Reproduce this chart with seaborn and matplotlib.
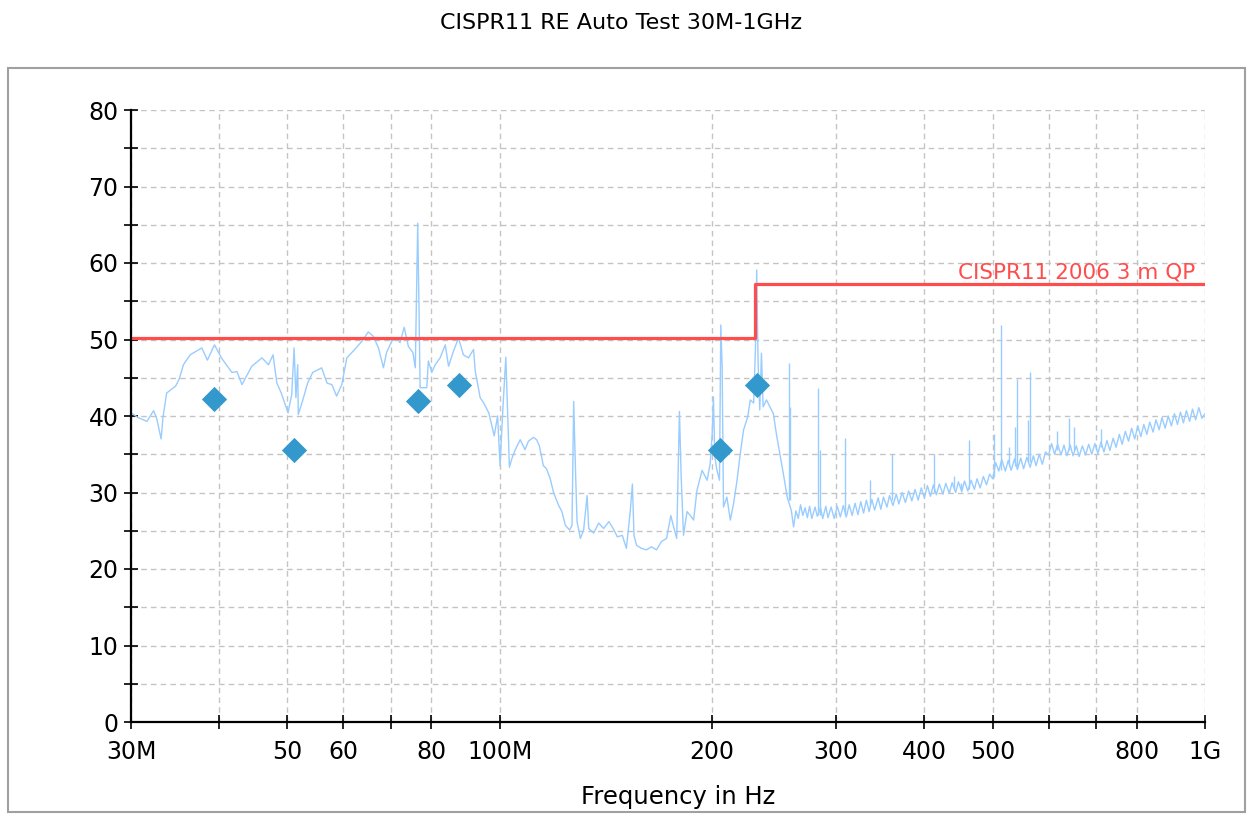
import pandas as pd
import matplotlib
matplotlib.use("Agg")
import matplotlib.pyplot as plt
from matplotlib.ticker import MultipleLocator, NullLocator
from matplotlib.patches import Rectangle
import seaborn as sns

sns.set_theme(style="white")
plt.rcParams['font.family'] = ['DejaVu Sans']
plt.rcParams['text.color'] = 'black'

# Medição (MHz, dBuV/m), por trechos
freq_a = [30.0, 30.7, 31.6, 32.3, 32.6, 33.1, 33.3, 33.7, 34.7, 35.1, 35.6, 36.4, 37.8, 38.5, 39.4,
          40.3, 41.7, 42.4, 43.1, 44.5, 46.0, 47.0, 47.7, 48.3, 49.0, 50.1, 50.7, 51.1, 51.4, 51.7,
          51.8, 52.5, 53.4, 54.3, 55.4]
level_a = [40.4, 39.8, 39.3, 40.7, 39.8, 37.0, 39.8, 43.0, 43.9, 44.8, 46.7, 48.0, 48.9, 47.3, 49.3,
           47.6, 45.7, 45.8, 44.1, 46.5, 47.6, 46.7, 48.0, 44.3, 43.0, 40.4, 42.8, 48.9, 42.4, 46.7,
           40.2, 41.9, 44.3, 45.7, 46.1]

freq_b = [55.9, 56.9, 57.8, 58.7, 59.7, 60.7, 62.0, 63.8, 65.1, 66.2, 67.3, 68.4, 69.1, 70.3, 71.4,
          72.2, 73.2, 74.2, 75.3, 75.9, 76.2, 76.5, 76.8, 77.1, 77.9, 78.8, 79.2, 80.1, 81.0, 82.3,
          83.7, 84.6, 86.0, 87.4, 88.8, 90.3, 91.8, 92.3, 93.8]
level_b = [46.3, 44.3, 44.1, 42.6, 44.1, 47.6, 48.5, 49.8, 51.0, 50.4, 48.9, 46.3, 48.3, 49.8, 50.2,
           49.6, 51.6, 49.1, 48.3, 46.3, 55.4, 65.2, 55.0, 43.7, 43.7, 43.7, 47.2, 45.7, 46.7, 47.6,
           49.3, 46.5, 48.5, 50.2, 48.0, 47.6, 48.7, 45.9, 42.4]

freq_c = [94.9, 96.5, 98.2, 99.3, 100.1, 101.0, 102.0, 102.6, 103.2, 104.0, 105.2, 106.9, 108.6,
          109.8, 111.6, 112.8, 113.8, 115.3, 116.5, 117.9, 119.2, 121.2, 122.5, 123.9, 125.6, 126.6,
          127.3, 128.0, 128.7, 130.1, 131.5, 133.0, 133.7, 135.9, 138.1, 140.4, 142.8, 145.2, 146.8,
          149.2, 151.2, 153.1, 154.2, 155.0, 156.3, 158.8, 161.4, 164.1, 166.8, 169.6, 172.4, 174.8,
          176.2, 178.2, 179.8, 180.8, 182.2, 184.3, 186.3]
level_c = [41.7, 40.4, 37.4, 40.0, 33.5, 40.8, 47.7, 40.4, 33.3, 34.4, 35.6, 36.9, 35.6,
           36.7, 37.2, 36.9, 36.1, 33.5, 33.1, 31.8, 30.0, 28.3, 27.5, 25.7, 25.1, 25.7,
           41.9, 33.5, 26.2, 24.0, 25.1, 29.6, 25.3, 24.7, 26.0, 25.3, 26.2, 25.1, 24.2,
           24.4, 22.7, 27.5, 31.1, 24.4, 23.1, 22.7, 22.5, 22.9, 22.5, 23.6, 24.0, 27.0,
           25.7, 24.0, 40.6, 32.2, 24.4, 27.5, 27.0]

freq_d = [188.3, 190.4, 193.6, 196.8, 198.8, 200.1, 200.9, 201.8, 203.1, 204.9, 205.8, 206.7, 207.6,
          209.9, 212.3, 214.6, 217.0, 219.3, 221.7, 224.7, 226.6, 229.1, 230.4, 231.4, 232.4, 233.7,
          235.0, 236.3, 238.9, 241.6, 244.3, 247.1, 249.9, 252.8, 255.6]
level_d = [26.4, 30.3, 32.9, 31.6, 33.8, 37.7, 42.5, 34.7, 33.0, 31.6, 51.9, 46.5, 28.1,
           29.4, 26.4, 28.6, 31.6, 35.1, 38.2, 39.9, 42.1, 41.7, 48.6, 59.1, 47.3, 40.8,
           48.2, 41.2, 42.1, 41.2, 40.3, 37.3, 34.7, 32.1, 29.4]

freq_e = [259, 261, 263, 265, 267, 269, 271, 273, 275, 277,
          280, 282, 285, 287, 290, 292, 295, 298, 301, 304,
          307, 310, 313, 316, 319, 322, 325, 328, 331, 334,
          337, 340, 344, 347, 350, 354, 357, 361, 365, 368,
          372, 376, 380, 384, 388, 392, 396, 400, 404, 408,
          412, 416, 420, 425, 429, 434, 438, 443, 447, 452,
          456, 461, 466, 471, 475, 480, 485, 490, 495, 500,
          505, 510, 515, 521, 526, 531, 537, 542, 548, 553,
          559, 565, 571, 576, 582, 588, 594, 600, 606, 612,
          618, 625, 631, 637, 644, 650, 657, 663, 670, 677,
          684, 691, 698, 705, 712, 719, 726, 733, 741, 748,
          756, 763, 771, 779, 787, 795, 803, 811, 819, 827,
          835, 844, 852, 861, 869, 878, 887, 896, 905, 914,
          923, 932, 941, 951, 960, 970, 980, 990, 1000]
level_e = [27.7, 25.5, 27.6, 26.6, 28.4, 27.0, 28.0, 26.7, 28.2, 26.6,
           28.1, 26.9, 28.0, 26.6, 28.2, 26.7, 28.1, 26.6, 28.2, 26.8,
           28.3, 26.8, 28.4, 27.0, 28.6, 27.1, 28.8, 27.3, 29.0, 27.5,
           29.1, 27.7, 29.3, 27.8, 29.4, 28.1, 29.6, 28.3, 29.8, 28.5,
           30.0, 28.7, 30.2, 28.9, 30.4, 29.0, 30.6, 29.3, 30.9, 29.5,
           31.0, 29.7, 31.1, 29.8, 31.2, 29.9, 31.3, 30.0, 31.4, 30.1,
           31.5, 30.2, 31.6, 30.4, 31.8, 30.6, 32.1, 31.0, 32.4, 31.8,
           33.9, 32.8, 34.3, 32.8, 34.2, 32.9, 34.4, 33.0, 34.5, 33.1,
           34.6, 33.3, 34.8, 33.5, 35.0, 33.7, 35.3, 34.9, 36.4, 35.0,
           36.3, 34.9, 36.2, 34.8, 36.2, 34.8, 36.1, 34.7, 36.1, 34.9,
           36.3, 35.0, 36.4, 35.1, 36.6, 35.3, 36.8, 35.5, 37.1, 35.9,
           37.6, 36.3, 38.0, 36.7, 38.4, 37.0, 38.7, 37.3, 38.9, 37.6,
           39.2, 37.9, 39.5, 38.2, 39.8, 38.4, 40.0, 38.7, 40.3, 38.9,
           40.5, 39.1, 40.7, 39.3, 40.9, 39.5, 41.1, 39.7, 40.3]

# Picos estreitos acima de 250 MHz (freq, base, topo)
spike_freq = [257.3, 258.3, 282.3, 284.1, 308.4, 334.6, 360.1, 412.8, 441.0, 450.2, 462.8, 501.6,
              513.0, 527.3, 537.2, 540.9, 561.6, 565.3, 617.4, 641.3, 652.0, 712.0]
spike_base = [29.0, 29.0, 27.0, 27.0, 27.0, 28.5, 29.0, 30.0, 30.5, 30.5, 30.5, 32.0,
              33.0, 33.5, 33.5, 33.5, 34.0, 34.0, 35.5, 35.5, 35.5, 36.0]
spike_peak = [46.9, 41.2, 43.6, 35.5, 37.1, 31.6, 35.0, 35.0, 32.1, 31.2, 36.9, 37.6,
              51.9, 36.0, 38.6, 44.9, 39.5, 45.7, 38.0, 39.7, 38.5, 38.3]

# Limite CISPR11
limit_freq = [30, 230, 1000]
limit_level = [50.2, 57.3, 57.3]

# Pontos QP finais
peak_freq = [39.4, 51.1, 76.5, 87.4, 205.4, 231.5]
peak_level = [42.2, 35.6, 41.9, 44.05, 35.6, 44.05]

x_ticks = [30, 40, 50, 60, 70, 80, 100, 200, 300, 400, 500, 600, 700, 800, 1000]
x_labels = ["30M", "", "50", "60", "", "80", "100M", "200", "300", "400", "500", "", "", "800", "1G"]

trace = pd.DataFrame({
    'freq': freq_a + freq_b + freq_c + freq_d + freq_e,
    'level': level_a + level_b + level_c + level_d + level_e,
})

W, H = 1250, 814
fig = plt.figure(figsize=(W / 100, H / 100), dpi=100)
ax = fig.add_axes([131 / W, 92 / H, 1074 / W, 612 / H])
ax.set_xscale('log')

sns.lineplot(data=trace, x='freq', y='level', sort=False, estimator=None,
             color='#99ccff', lw=1.0, ax=ax, zorder=3)
ax.vlines(spike_freq, spike_base, spike_peak, color='#99ccff', lw=1.0, zorder=3)
sns.lineplot(x=limit_freq, y=limit_level, sort=False, estimator=None, drawstyle='steps-post',
             color='#ff4d4d', lw=2.3, ax=ax, zorder=4)
sns.scatterplot(x=peak_freq, y=peak_level, marker='D', s=165, color='#3399cc',
                linewidth=0, ax=ax, zorder=5)

ax.text(968, 57.95, "CISPR11 2006 3 m QP", color='#ff4d4d', ha='right', va='baseline', fontsize=15.5)

ax.set_xlim(30, 1000)
ax.set_ylim(0, 80)
ax.set_xticks(x_ticks)
ax.set_xticklabels(x_labels)
ax.xaxis.set_minor_locator(NullLocator())
ax.yaxis.set_major_locator(MultipleLocator(10))
ax.yaxis.set_minor_locator(MultipleLocator(5))
ax.set_xlabel("")
ax.set_ylabel("")

grid_kw = dict(color='#c4c4c4', lw=1.0, linestyle=(0, (4, 3)))
ax.grid(True, which='major', axis='x', **grid_kw)
ax.grid(True, which='both', axis='y', **grid_kw)
ax.set_axisbelow(True)

for side in ['top', 'right']:
    ax.spines[side].set_visible(False)
for side in ['left', 'bottom']:
    ax.spines[side].set_color('black')
    ax.spines[side].set_linewidth(1.6)
    ax.spines[side].set_zorder(6)

ax.tick_params(axis='both', which='both', direction='inout', length=10, width=1.2,
               color='black', labelsize=17, labelcolor='black')
ax.tick_params(axis='y', which='both', pad=4, left=True)
ax.tick_params(axis='x', which='both', pad=8, bottom=True)

fig.text(621 / W, 1 - 23 / H, "CISPR11 RE Auto Test 30M-1GHz", ha='center', va='center',
         fontsize=16, color='black')
fig.text(678 / W, 1 - 797 / H, "Frequency in Hz", ha='center', va='center',
         fontsize=17.5, color='black')

fig.add_artist(Rectangle((8 / W, 2 / H), 1237 / W, 744 / H, transform=fig.transFigure,
                         fill=False, ec='#a0a0a0', lw=1.5))

fig.savefig('out.png', dpi=100)
